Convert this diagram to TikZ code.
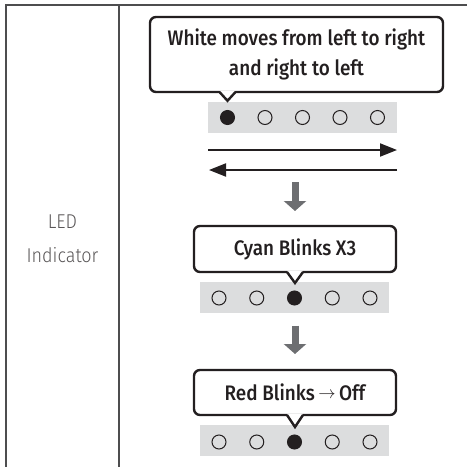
\documentclass[tikz,border=0pt]{standalone}
\usepackage{fontspec}
\setmainfont{Fira Sans}
\newfontfamily\medfont[FakeStretch=0.9]{Fira Sans Medium}
\newfontfamily\lightfont[FakeStretch=0.9]{Fira Sans Light}
\usepackage{xcolor}
\usepackage{tikz}
\usetikzlibrary{positioning,arrows.meta}

\definecolor{ink}{HTML}{231F20}
\definecolor{stripgray}{HTML}{DCDDDE}
\definecolor{flowgray}{HTML}{6D6E71}
\definecolor{rulegray}{HTML}{4D4D4F}

\tikzset{
  bubble/.style={draw=ink, line width=2.4pt, rounded corners=6pt, fill=white, outer sep=0pt,
    text=ink, align=center, inner sep=0pt, font=\medfont\fontsize{21}{30}\selectfont},
  notch/.style={draw=ink, line width=2.4pt, line join=miter},
  ledbar/.style={fill=stripgray, minimum width=189pt, minimum height=31pt, inner sep=0pt},
  ledoff/.style={circle, draw=ink, line width=1pt, minimum size=14pt, inner sep=0pt},
  ledon/.style={ledoff, fill=ink},
  sweep/.style={ink, line width=2pt, -{Triangle[length=17pt,width=13pt]}},
  flowarrow/.style={flowgray, line width=7pt, -{Triangle[length=10pt,width=22pt]}},
}

\begin{document}
\begin{tikzpicture}[x=1pt, y=-1pt]
\useasboundingbox (0,0) rectangle (467,467);
% Table frame
\coordinate (tl) at (6,5);
\coordinate (tm) at (119,5);
\coordinate (tr) at (467,5);
\draw[rulegray, line width=1.2pt] (tl |- 0,467) -- (tl) -- (tr);
\draw[rulegray, line width=1.2pt] (tm) -- (tm |- 0,467);
\node[text=ink!75, align=center, font=\lightfont\fontsize{20}{34}\selectfont] (label) at (62.5,239) {LED\\Indicator};

% White sweep
\node[bubble, minimum width=293pt, minimum height=75pt] (white) at (296.5,54.5) {White moves from left to right\\and right to left};
\node[ledbar] (bar1) at (302.5,117.5) {};
\node[ledon] (w1) at ([xshift=-75pt]bar1.center) {};
\node[ledoff, right of=w1, node distance=37.5pt] (w2) {};
\node[ledoff, right of=w2, node distance=37.5pt] (w3) {};
\node[ledoff, right of=w3, node distance=37.5pt] (w4) {};
\node[ledoff, right of=w4, node distance=37.5pt] (w5) {};
\coordinate (wtip) at (w1 |- bar1.north);
\fill[white] ([xshift=-8pt, yshift=1.5pt]wtip |- white.south) -- (wtip) -- ([xshift=8pt, yshift=1.5pt]wtip |- white.south) -- cycle;
\draw[notch] ([xshift=-8pt]wtip |- white.south) -- ([yshift=1pt]wtip) -- ([xshift=8pt]wtip |- white.south);
\coordinate (goR) at (208,150);
\coordinate (endR) at (397,150);
\coordinate (goL) at (397,170);
\coordinate (endL) at (209,170);
\draw[sweep] (goR) -- (endR);
\draw[sweep] (goL) -- (endL);

% Cyan blinks
\node[bubble, minimum width=202pt, minimum height=46pt] (cyan) at (295,249) {Cyan Blinks X3};
\draw[flowarrow, shorten <=49pt, shorten >=15pt] (bar1.south -| cyan.north) -- (cyan.north);
\node[ledbar] (bar2) at (294.5,297) {};
\node[ledoff] (c1) at ([xshift=-75.5pt, yshift=-1pt]bar2.center) {};
\node[ledoff, right of=c1, node distance=37.75pt] (c2) {};
\node[ledon, right of=c2, node distance=37.75pt] (c3) {};
\node[ledoff, right of=c3, node distance=37.75pt] (c4) {};
\node[ledoff, right of=c4, node distance=37.75pt] (c5) {};
\coordinate (ctip) at (295,284);
\fill[white] ([xshift=-8pt, yshift=1.5pt]ctip |- cyan.south) -- (ctip) -- ([xshift=8pt, yshift=1.5pt]ctip |- cyan.south) -- cycle;
\draw[notch] ([xshift=-8pt]ctip |- cyan.south) -- ([yshift=1pt]ctip) -- ([xshift=8pt]ctip |- cyan.south);

% Red blinks
\node[bubble, minimum width=202pt, minimum height=45pt] (red) at (295,392.5) {Red Blinks\,{\lightfont\fontsize{18}{20}\selectfont\raisebox{2pt}{$\rightarrow$}}\,Off};
\draw[flowarrow, shorten <=13pt, shorten >=16pt] (bar2.south -| red.north) -- (red.north);
\node[ledbar] (bar3) at (294.5,440.5) {};
\node[ledoff] (r1) at ([xshift=-75.5pt, yshift=-1.5pt]bar3.center) {};
\node[ledoff, right of=r1, node distance=37.75pt] (r2) {};
\node[ledon, right of=r2, node distance=37.75pt] (r3) {};
\node[ledoff, right of=r3, node distance=37.75pt] (r4) {};
\node[ledoff, right of=r4, node distance=37.75pt] (r5) {};
\coordinate (rtip) at (295,428);
\fill[white] ([xshift=-8pt, yshift=1.5pt]rtip |- red.south) -- (rtip) -- ([xshift=8pt, yshift=1.5pt]rtip |- red.south) -- cycle;
\draw[notch] ([xshift=-8pt]rtip |- red.south) -- ([yshift=1pt]rtip) -- ([xshift=8pt]rtip |- red.south);
\end{tikzpicture}
\end{document}
